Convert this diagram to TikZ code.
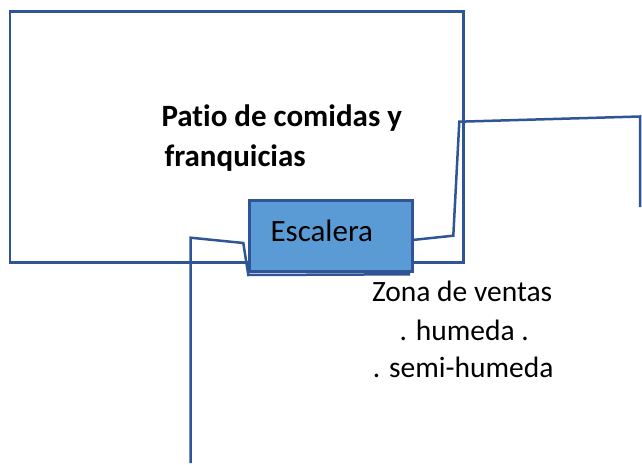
\documentclass[tikz,border=0pt]{standalone}
\usepackage{fontspec}
\setmainfont[Ligatures={NoCommon}]{Carlito}
\definecolor{lineblue}{RGB}{47,85,151}
\definecolor{boxfill}{RGB}{91,155,213}
\tikzset{
  ln/.style={draw=lineblue, line width=2.5pt},
  area/.style={ln, rectangle, inner sep=0pt, outer sep=0pt},
  txt/.style={inner sep=0pt, outer sep=0pt, anchor=base west, text=black},
  titlefont/.style={font=\fontsize{31}{38}\selectfont\bfseries},
  escfont/.style={font=\fontsize{31}{38}\selectfont},
  zonafont/.style={font=\fontsize{29.5}{38}\selectfont}
}
\begin{document}
\begin{tikzpicture}[x=1pt,y=-1pt]
\useasboundingbox (0,0) rectangle (642,465);
% large area
\node[area, minimum width=453.3pt, minimum height=251pt] (patio) at (236.7,137.2) {};
\node[txt, titlefont] (t1) at (161.5,126.7) {Patio de comidas y};
\node[txt, titlefont] (t2) at (164.5,167) {franquicias};
% right connector
\coordinate (r0) at (412.3,240);
\coordinate (r1) at (453.3,235.7);
\coordinate (r2) at (459.3,121.7);
\coordinate (r3) at (640,116.5);
\coordinate (r4) at (640,207);
% left connector
\coordinate (l0) at (190.5,463);
\coordinate (l1) at (190.5,237.7);
\coordinate (l2) at (243.3,243);
\coordinate (l3) at (248.3,275);
\coordinate (l4) at (410,274.3);
\draw[ln, line join=miter] (r0) -- (r1) -- (r2) -- (r3) -- (r4);
\draw[ln, line join=miter] (l0) -- (l1) -- (l2) -- (l3) -- (l4);
% stair box
\node[area, fill=boxfill, minimum width=162.8pt, minimum height=71pt] (esc) at (331,236.2) {};
\node[txt, escfont] (esct) at (270.5,241) {Escalera};
% sales zone text
\node[txt, zonafont] (z1) at (372,301.5) {Zona de ventas};
\node[txt, zonafont] (z2) at (399.5,340) {. humeda .};
\node[txt, zonafont] (z3) at (372.8,377.5) {. semi-humeda};
\end{tikzpicture}
\end{document}
